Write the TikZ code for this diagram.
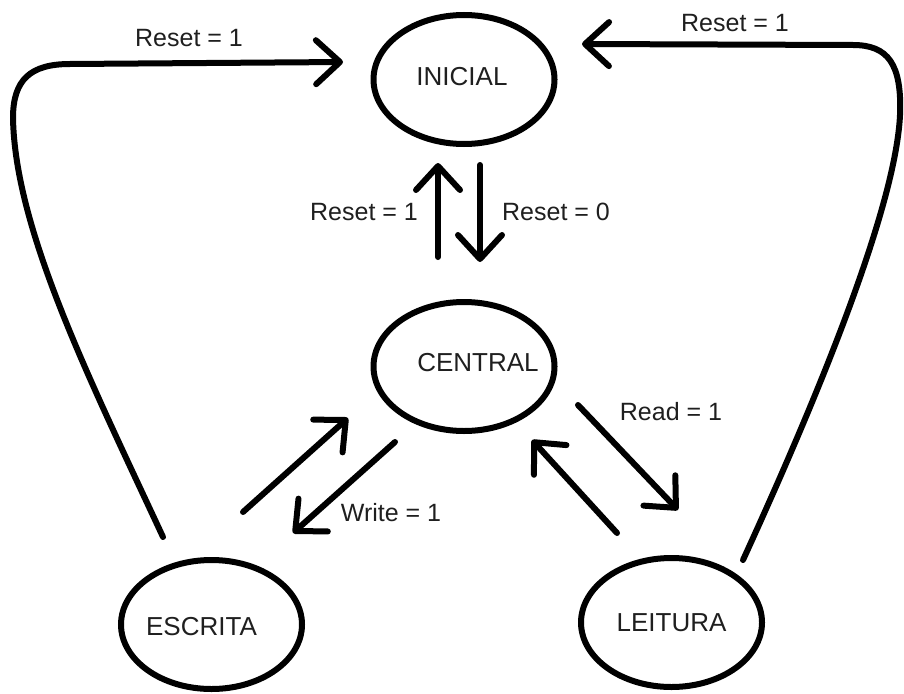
\documentclass[tikz,border=0pt]{standalone}
\usepackage{fontspec}
\setmainfont{Liberation Sans}
\usetikzlibrary{shapes.geometric,arrows.meta}
\begin{document}
\begin{tikzpicture}[x=1pt,y=-1pt,
  state/.style={ellipse,draw,line width=6pt,minimum width=181pt,minimum height=129pt,inner sep=0pt},
  sname/.style={font=\fontsize{26}{30}\selectfont,text=black!88},
  lbl/.style={font=\fontsize{25}{30}\selectfont,text=black!88},
  conn/.style={line width=6pt,line cap=round,line join=round,-{Straight Barb[length=24pt,width=44pt,round]}},
  wire/.style={line width=6pt,line cap=round,line join=round}]
\useasboundingbox (0,0) rectangle (904,693);
% states
\node[state,label={[sname,xshift=-2pt,yshift=2.5pt]center:INICIAL}] (I) at (464,79.5) {};
\node[state,label={[sname,xshift=14pt,yshift=3.5pt]center:CENTRAL}] (C) at (464,366.5) {};
\node[state,label={[sname,xshift=-10pt,yshift=-2pt]center:ESCRITA}] (E) at (211.5,624.5) {};
\node[state,label={[sname,yshift=0pt]center:LEITURA}] (L) at (671.5,622.5) {};
% connector end points
\coordinate (eTop) at (163,537);
\coordinate (iLeft) at (343,62);
\coordinate (lTop) at (743,560);
\coordinate (iRight) at (582,44);
\coordinate (cUpS) at (438,257);
\coordinate (iBotL) at (438,163);
\coordinate (iBotR) at (480,165);
\coordinate (cTopR) at (480,262);
\coordinate (eUpS) at (243,512);
\coordinate (cLow1) at (348,418);
\coordinate (cLow2) at (395,442);
\coordinate (eUpE) at (293,533);
\coordinate (cLow3) at (578,405);
\coordinate (lUpE) at (678,510);
\coordinate (lUpS) at (617,533);
\coordinate (cLow4) at (532,440);
% ESCRITA -> INICIAL
\draw[conn] (eTop) .. controls (90,380) and (15,230) .. (13,118)
  .. controls (13,80) and (30,64) .. (70,64) -- (iLeft);
\node[lbl] (t1) at (189,38) {Reset = 1};
% LEITURA -> INICIAL
\draw[conn] (lTop) .. controls (830,370) and (896,200) .. (900,115)
  .. controls (902,64) and (888,45) .. (853,45) -- (iRight);
\node[lbl] (t2) at (735,23) {Reset = 1};
% CENTRAL <-> INICIAL
\draw[conn] (cUpS) -- (iBotL);
\node[lbl] (t3) at (364,212) {Reset = 1};
\draw[conn] (iBotR) -- (cTopR);
\node[lbl] (t4) at (556,212) {Reset = 0};
% ESCRITA <-> CENTRAL
\draw[conn] (eUpS) -- (cLow1);
\draw[conn] (cLow2) -- (eUpE);
\node[lbl] (t5) at (391,513) {Write = 1};
% CENTRAL <-> LEITURA
\draw[conn] (cLow3) -- (lUpE);
\node[lbl] (t6) at (671,412) {Read = 1};
\draw[conn] (lUpS) -- (cLow4);
\end{tikzpicture}
\end{document}
